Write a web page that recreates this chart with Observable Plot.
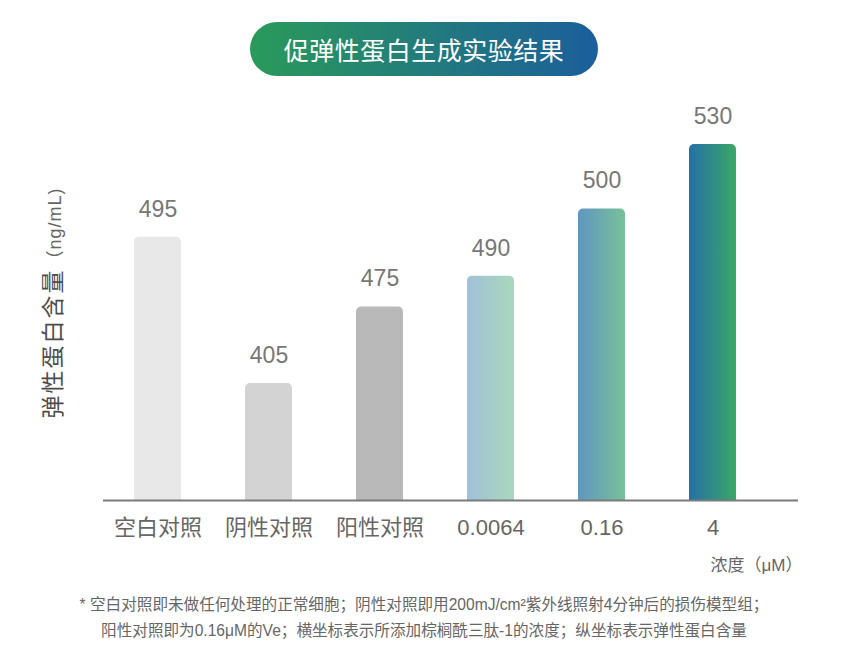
<!DOCTYPE html>
<html><head><meta charset="utf-8">
<script src="https://cdn.jsdelivr.net/npm/d3@7"></script>
<script src="https://cdn.jsdelivr.net/npm/@observablehq/plot@0.6"></script>
<style>
body{margin:0;background:#fff;width:848px;font-family:"Liberation Sans","Noto Sans CJK SC",sans-serif;}
#head{position:relative;height:90px;}
#pill{position:absolute;left:250px;top:22px;width:348px;height:54px;border-radius:27px;background:linear-gradient(90deg,#2a9a5a,#1b5e9c);color:#fff;font-family:"Noto Sans CJK SC",sans-serif;font-size:25px;font-weight:400;text-align:center;line-height:54px;letter-spacing:0.5px}
#chart svg{display:block}
#note{font-size:15.6px;color:#666;text-align:center;line-height:26px;padding-top:2px;font-family:"Liberation Sans","Noto Sans CJK SC",sans-serif;}
</style></head><body>
<div id="head"><div id="pill"></div></div>
<div id="chart"></div>
<div id="note"></div>
<script>
const title = "促弹性蛋白生成实验结果";
const categories = ["空白对照", "阴性对照", "阳性对照", "0.0064", "0.16", "4"];
const values = [495, 405, 475, 490, 500, 530];          // printed labels
const barLevels = [392, 174, 288, 334, 434, 530];       // bar heights as drawn (chart is not to scale)
const fills = ["#e8e8e8", "#d3d3d3", "#b9b9b9", "url(#g4)", "url(#g5)", "url(#g6)"];
const gradients = [
  {id: "g4", from: "#a0c0d8", to: "#aad8bc"},
  {id: "g5", from: "#6096c0", to: "#78c199"},
  {id: "g6", from: "#2470a7", to: "#3ca866"}
];
const yLabelMain = "弹性蛋白含量";
const yLabelUnit = "（ng/mL)";
const xLabel = "浓度（μM）";
const notes = [
  "* 空白对照即未做任何处理的正常细胞；阴性对照即用200mJ/cm²紫外线照射4分钟后的损伤模型组；",
  "阳性对照即为0.16μM的Ve；横坐标表示所添加棕榈酰三肽-1的浓度；纵坐标表示弹性蛋白含量"
];

document.getElementById("pill").textContent = title;
const noteDiv = document.getElementById("note");
notes.forEach(t => { const d = document.createElement("div"); d.textContent = t; noteDiv.appendChild(d); });

const data = categories.map((c, i) => ({category: c, value: values[i], level: barLevels[i], fill: fills[i]}));
const font = '"Liberation Sans","Noto Sans CJK SC",sans-serif';

const plot = Plot.plot({
  width: 848, height: 500,
  marginTop: 54, marginBottom: 90, marginLeft: 103, marginRight: 50,
  x: {domain: categories, paddingInner: 0.577, paddingOuter: 0.4135, align: 0.337, label: null},
  y: {domain: [0, 530], axis: null},
  color: {type: "identity"},
  style: {fontFamily: font, background: "white"},
  marks: [
    Plot.barY(data, {x: "category", y: "level", fill: "fill", rx: 5, insetBottom: -10, clip: true}),
    Plot.ruleY([0], {stroke: "#7b7b7b", strokeWidth: 2}),
    Plot.text(data, {x: "category", y: "level", text: d => String(d.value), dy: -28, lineAnchor: "middle", fontSize: 23, fill: "#777"}),
    Plot.axisX({tickSize: 0, tickPadding: 19, fontSize: 22, color: "#666", label: null}),
    Plot.text([xLabel], {frameAnchor: "bottom-right", dx: 4, dy: 65, textAnchor: "end", lineAnchor: "middle", fontSize: 17, fill: "#666"})
  ]
});

const svg = d3.select(plot);
const defs = svg.insert("defs", ":first-child");
gradients.forEach(g => {
  const lg = defs.append("linearGradient").attr("id", g.id).attr("x1", "0").attr("x2", "1").attr("y1", "0").attr("y2", "0");
  lg.append("stop").attr("offset", "0").attr("stop-color", g.from);
  lg.append("stop").attr("offset", "1").attr("stop-color", g.to);
});
const yl = svg.append("text")
  .attr("transform", "translate(61,213) rotate(-90)")
  .attr("text-anchor", "middle")
  .style("font-family", font);
yl.append("tspan").text(yLabelMain).attr("font-size", 23).attr("font-weight", 400).attr("fill", "#4d4d4d").attr("letter-spacing", "2px").style("font-family", '"Noto Sans CJK SC",sans-serif');
yl.append("tspan").text(yLabelUnit).attr("font-size", 18).attr("fill", "#666").attr("letter-spacing", "1px");

document.getElementById("chart").appendChild(plot);
</script>
</body></html>
